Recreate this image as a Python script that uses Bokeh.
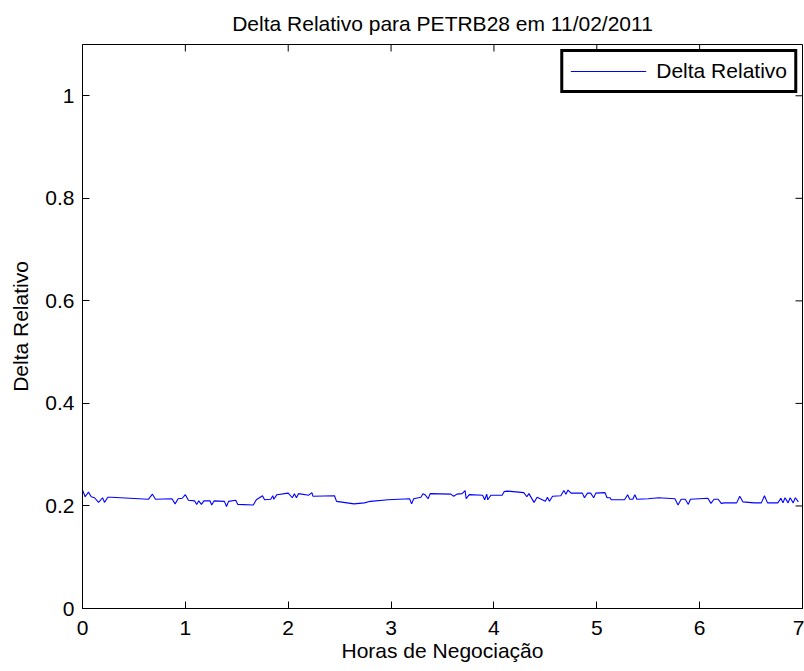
import math
from bokeh.plotting import figure
from bokeh.models import FixedTicker, Range1d, Legend, LegendItem
from bokeh.embed import file_html
from bokeh.resources import INLINE

# ---- data ----
hours = [0.00, 0.026, 0.058, 0.085, 0.117, 0.156, 0.195, 0.214, 0.246, 0.28,
         0.64, 0.68, 0.71, 0.87, 0.90, 0.93, 0.97, 1.00, 1.03, 1.09,
         1.11, 1.13, 1.156, 1.18, 1.24, 1.256, 1.28, 1.38, 1.40, 1.42,
         1.49, 1.51, 1.66, 1.69, 1.75, 1.77, 1.83, 1.85, 1.86, 1.89,
         2.00, 2.04, 2.06, 2.08, 2.10, 2.20, 2.23, 2.24, 2.45, 2.47,
         2.64, 2.74, 2.80, 2.97, 3.18, 3.20, 3.22, 3.29, 3.31, 3.33,
         3.36, 3.38, 3.58, 3.61, 3.64, 3.69, 3.72, 3.73, 3.76, 3.89,
         3.91, 3.93, 3.94, 3.97, 4.08, 4.10, 4.13, 4.29, 4.32, 4.34,
         4.39, 4.42, 4.50, 4.52, 4.54, 4.57, 4.65, 4.68, 4.70, 4.72,
         4.75, 4.86, 4.88, 4.91, 4.94, 4.97, 4.99, 5.08, 5.10, 5.13,
         5.14, 5.27, 5.30, 5.32, 5.35, 5.37, 5.39, 5.50, 5.60, 5.76,
         5.79, 5.82, 5.86, 5.89, 5.91, 6.08, 6.11, 6.14, 6.18, 6.21,
         6.24, 6.36, 6.39, 6.42, 6.53, 6.60, 6.63, 6.66, 6.76, 6.79,
         6.81, 6.83, 6.86, 6.88, 6.91, 6.93, 6.96]
delta_rel = [0.231, 0.218, 0.227, 0.218, 0.216, 0.207, 0.216, 0.207, 0.217, 0.217,
             0.213, 0.223, 0.213, 0.214, 0.204, 0.214, 0.215, 0.222, 0.211, 0.210,
             0.203, 0.210, 0.203, 0.210, 0.210, 0.202, 0.210, 0.209, 0.199, 0.209,
             0.211, 0.203, 0.202, 0.212, 0.220, 0.212, 0.213, 0.220, 0.213, 0.222,
             0.225, 0.216, 0.224, 0.216, 0.224, 0.221, 0.226, 0.219, 0.220, 0.209,
             0.204, 0.206, 0.209, 0.212, 0.214, 0.204, 0.214, 0.217, 0.224, 0.222,
             0.214, 0.224, 0.223, 0.219, 0.223, 0.224, 0.230, 0.214, 0.222, 0.221,
             0.212, 0.223, 0.212, 0.221, 0.221, 0.228, 0.229, 0.226, 0.218, 0.224,
             0.207, 0.217, 0.209, 0.217, 0.209, 0.219, 0.220, 0.230, 0.223, 0.231,
             0.225, 0.225, 0.216, 0.225, 0.225, 0.216, 0.225, 0.226, 0.216, 0.216,
             0.212, 0.212, 0.222, 0.213, 0.213, 0.222, 0.213, 0.214, 0.216, 0.214,
             0.202, 0.213, 0.213, 0.203, 0.213, 0.215, 0.205, 0.213, 0.213, 0.205,
             0.206, 0.206, 0.219, 0.208, 0.206, 0.206, 0.220, 0.206, 0.206, 0.215,
             0.206, 0.216, 0.206, 0.216, 0.206, 0.216, 0.208]

x_min, x_max = 0, 7
y_min, y_max = 0, 1.1
x_ticks = [0, 1, 2, 3, 4, 5, 6, 7]
y_ticks = [0, 0.2, 0.4, 0.6, 0.8, 1]
y_tick_labels = ["0", "0.2", "0.4", "0.6", "0.8", "1"]

title_text = "Delta Relativo para PETRB28 em 11/02/2011"
x_label = "Horas de Negociação"
y_label = "Delta Relativo"
series_name = "Delta Relativo"

FONT = "Liberation Sans"
FS = "21px"

p = figure(width=804, height=670, output_backend="svg", toolbar_location=None,
           x_range=Range1d(x_min, x_max), y_range=Range1d(y_min, y_max),
           min_border_left=82, min_border_right=2, min_border_top=43,
           min_border_bottom=62, title=title_text)

p.title.text_font = FONT
p.title.text_font_size = FS
p.title.text_font_style = "normal"
p.title.align = "center"
p.title.text_color = "black"
p.title.standoff = 19

p.background_fill_color = "white"
p.border_fill_color = "white"
p.outline_line_color = "black"
p.outline_line_width = 1
p.xgrid.visible = False
p.ygrid.visible = False

line = p.line(hours, delta_rel, line_color="#0000ff", line_width=1.1)

def style_axis(ax):
    ax.axis_line_color = "black"
    ax.major_tick_line_color = "black"
    ax.major_tick_in = 7
    ax.major_tick_out = 0
    ax.minor_tick_line_color = None
    ax.major_label_text_font = FONT
    ax.major_label_text_font_size = FS
    ax.major_label_text_color = "black"
    ax.axis_label_text_font = FONT
    ax.axis_label_text_font_size = FS
    ax.axis_label_text_font_style = "normal"
    ax.axis_label_text_color = "black"

xa = p.xaxis[0]
xa.ticker = FixedTicker(ticks=x_ticks)
xa.axis_label = x_label
style_axis(xa)
xa.major_label_standoff = 12
xa.axis_label_standoff = 1

ya = p.yaxis[0]
ya.ticker = FixedTicker(ticks=y_ticks)
ya.major_label_overrides = dict(zip(y_ticks, y_tick_labels))
ya.axis_label = y_label
style_axis(ya)
ya.major_label_standoff = 8
ya.axis_label_standoff = 10

# mirrored inward ticks on the top and right edges of the box
p.ray(x=x_ticks, y=[y_max] * len(x_ticks), length=7, length_units="screen",
      angle=-math.pi / 2, line_color="black", line_width=1)
p.ray(x=[x_max] * len(y_ticks), y=y_ticks, length=7, length_units="screen",
      angle=math.pi, line_color="black", line_width=1)

legend = Legend(items=[LegendItem(label=series_name, renderers=[line])],
                location="top_right")
legend.label_text_font = FONT
legend.label_text_font_size = FS
legend.label_text_color = "black"
legend.border_line_color = "black"
legend.border_line_width = 3
legend.border_line_alpha = 1
legend.padding = 7
legend.margin = 5
legend.glyph_width = 76
legend.glyph_height = 20
legend.label_standoff = 10
legend.background_fill_alpha = 1
p.add_layout(legend)

open("out.html", "w").write(file_html(p, INLINE))
